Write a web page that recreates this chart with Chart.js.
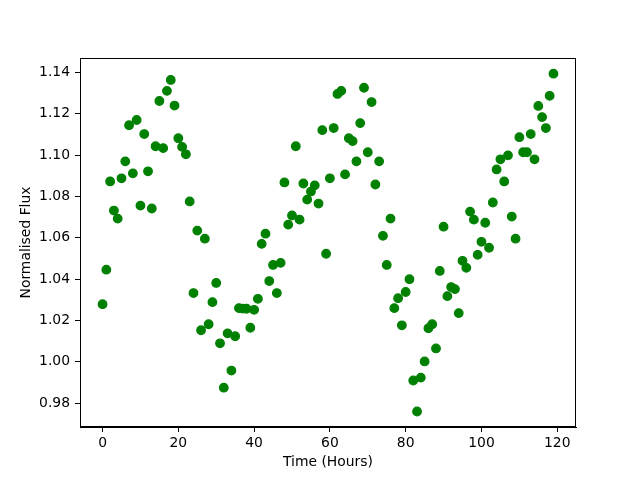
<!DOCTYPE html>
<html>
<head>
<meta charset="utf-8">
<script src="https://cdn.jsdelivr.net/npm/chart.js@4.4.0/dist/chart.umd.min.js"></script>
<style>
  body { margin: 0; background: #fff; }
  canvas { display: block; }
</style>
</head>
<body>
<canvas id="fluxChart" width="640" height="480"></canvas>
<script>
// time in hours, one reading per hour
const hours = [
    0, 1, 2, 3, 4, 5, 6, 7, 8, 9, 10, 11, 12, 13, 14, 15, 16, 17, 18, 19,
    20, 21, 22, 23, 24, 25, 26, 27, 28, 29, 30, 31, 32, 33, 34, 35, 36, 37, 38, 39,
    40, 41, 42, 43, 44, 45, 46, 47, 48, 49, 50, 51, 52, 53, 54, 55, 56, 57, 58, 59,
    60, 61, 62, 63, 64, 65, 66, 67, 68, 69, 70, 71, 72, 73, 74, 75, 76, 77, 78, 79,
    80, 81, 82, 83, 84, 85, 86, 87, 88, 89, 90, 91, 92, 93, 94, 95, 96, 97, 98, 99,
    100, 101, 102, 103, 104, 105, 106, 107, 108, 109, 110, 111, 112, 113, 114, 115, 116, 117, 118, 119
];

const flux = [
    1.0279, 1.0446, 1.0873, 1.0732, 1.0693, 1.0888, 1.0970, 1.1145, 1.0912, 1.1170,
    1.0756, 1.1102, 1.0922, 1.0742, 1.1043, 1.1262, 1.1034, 1.1311, 1.1364, 1.1240,
    1.1082, 1.1040, 1.1004, 1.0776, 1.0333, 1.0635, 1.0153, 1.0596, 1.0182, 1.0289,
    1.0382, 1.0090, 0.9875, 1.0138, 0.9958, 1.0124, 1.0260, 1.0258, 1.0257, 1.0165,
    1.0252, 1.0305, 1.0571, 1.0620, 1.0391, 1.0469, 1.0333, 1.0479, 1.0868, 1.0664,
    1.0708, 1.1043, 1.0688, 1.0863, 1.0785, 1.0824, 1.0854, 1.0766, 1.1121, 1.0523,
    1.0888, 1.1131, 1.1296, 1.1311, 1.0907, 1.1082, 1.1068, 1.0970, 1.1155, 1.1326,
    1.1014, 1.1257, 1.0858, 1.0970, 1.0610, 1.0469, 1.0693, 1.0260, 1.0308, 1.0177,
    1.0338, 1.0400, 0.9910, 0.9760, 0.9924, 1.0002, 1.0163, 1.0182, 1.0065, 1.0440,
    1.0654, 1.0318, 1.0362, 1.0352, 1.0236, 1.0489, 1.0455, 1.0727, 1.0688, 1.0518,
    1.0581, 1.0673, 1.0552, 1.0771, 1.0931, 1.0980, 1.0873, 1.0999, 1.0703, 1.0596,
    1.1087, 1.1014, 1.1014, 1.1102, 1.0980, 1.1238, 1.1184, 1.1131, 1.1287, 1.1394
];

const xTicks = [0, 20, 40, 60, 80, 100, 120];
const yTicks = [0.98, 1.00, 1.02, 1.04, 1.06, 1.08, 1.10, 1.12, 1.14];

const points = hours.map((h, i) => ({ x: h, y: flux[i] }));

const font = { family: 'DejaVu Sans', size: 13.9 };

// matplotlib style box round the plot
const frame = {
    id: 'frame',
    afterDraw(chart) {
        const a = chart.chartArea;
        const c = chart.ctx;
        c.save();
        c.strokeStyle = '#000';
        c.lineWidth = 1;
        c.strokeRect(a.left + 0.5, a.top + 0.5, a.right - a.left - 1, a.bottom - a.top - 1);
        c.restore();
    }
};

const ctx = document.getElementById('fluxChart').getContext('2d');
const fluxChart = new Chart(ctx, {
    type: 'scatter',
    data: {
        datasets: [{
            label: 'Flux',
            data: points,
            backgroundColor: '#008000',
            borderColor: '#008000',
            pointRadius: 4.3,
            pointBorderWidth: 1.2,
            pointHoverRadius: 4.3
        }]
    },
    options: {
        responsive: false,
        animation: false,
        layout: {
            padding: { top: 58, right: 64, left: 0, bottom: 0 }
        },
        plugins: {
            legend: { display: false },
            tooltip: { enabled: false }
        },
        scales: {
            x: {
                type: 'linear',
                min: -5.95,
                max: 124.95,
                afterBuildTicks: scale => { scale.ticks = xTicks.map(v => ({ value: v })); },
                afterFit: scale => { scale.height = 53; },
                grid: {
                    drawOnChartArea: false,
                    drawTicks: true,
                    tickLength: 5,
                    tickColor: '#000'
                },
                border: { display: true, color: '#000', width: 1 },
                ticks: {
                    color: '#000',
                    font: font,
                    padding: 3,
                    maxRotation: 0,
                    callback: v => v.toString()
                },
                title: {
                    display: true,
                    text: 'Time (Hours)',
                    color: '#000',
                    font: font,
                    padding: { top: 0, bottom: 9 }
                }
            },
            y: {
                type: 'linear',
                min: 0.9685,
                max: 1.147,
                afterBuildTicks: scale => { scale.ticks = yTicks.map(v => ({ value: v })); },
                afterFit: scale => { scale.width = 80; },
                grid: {
                    drawOnChartArea: false,
                    drawTicks: true,
                    tickLength: 5,
                    tickColor: '#000'
                },
                border: { display: true, color: '#000', width: 1 },
                ticks: {
                    color: '#000',
                    font: font,
                    padding: 5,
                    callback: v => v.toFixed(2)
                },
                title: {
                    display: true,
                    text: 'Normalised Flux',
                    color: '#000',
                    font: font,
                    padding: { top: 18, bottom: 0 }
                }
            }
        }
    },
    plugins: [frame]
});
</script>
</body>
</html>
